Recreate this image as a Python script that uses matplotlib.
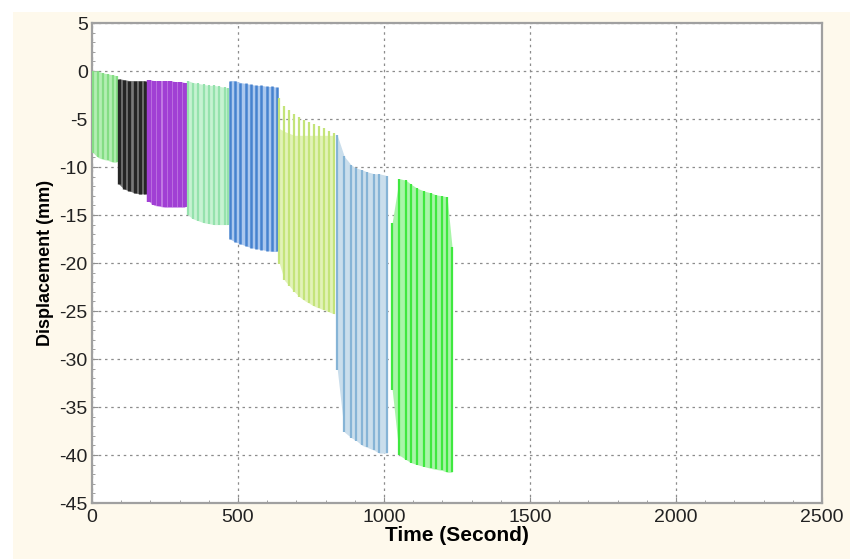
import numpy as np
import matplotlib.pyplot as plt
from matplotlib.patches import Rectangle
from matplotlib.ticker import MultipleLocator

plt.rcParams['font.family'] = ['Liberation Sans', 'DejaVu Sans']
plt.rcParams['axes.unicode_minus'] = False

# ---- data: one entry per loading stage ----
# cycle times (s), peak / trough of each cycle (mm)
s1_t = [3, 20, 37, 54, 71, 85]
s1_hi = [0.0, 0.0, -0.2, -0.3, -0.4, -0.5]
s1_lo = [-8.5, -9.0, -9.2, -9.3, -9.5, -9.5]

s2_t = [92, 110, 128, 146, 164, 182]
s2_hi = [-0.8, -0.9, -1.0, -1.0, -1.0, -1.0]
s2_lo = [-11.8, -12.3, -12.5, -12.7, -12.8, -12.8]

s3_t = [195, 213, 231, 249, 267, 285, 303, 318]
s3_hi = [-0.9, -1.0, -1.0, -1.0, -1.0, -1.1, -1.1, -1.2]
s3_lo = [-13.6, -14.0, -14.1, -14.2, -14.2, -14.2, -14.2, -14.2]

s4_t = [328, 346, 364, 382, 400, 418, 436, 454, 465]
s4_hi = [-1.0, -1.2, -1.3, -1.4, -1.5, -1.5, -1.6, -1.7, -1.8]
s4_lo = [-15.0, -15.4, -15.6, -15.8, -15.9, -16.0, -16.0, -16.0, -16.0]

s5_t = [472, 490, 508, 526, 544, 562, 580, 598, 616, 634]
s5_hi = [-1.0, -1.0, -1.2, -1.3, -1.4, -1.5, -1.5, -1.6, -1.6, -1.7]
s5_lo = [-17.5, -17.8, -18.0, -18.2, -18.4, -18.5, -18.6, -18.7, -18.8, -18.8]

s6_t = [642, 659, 676, 693, 710, 727, 744, 761, 778, 795, 812, 829]
s6_hi = [-2.8, -3.6, -4.1, -4.5, -4.8, -5.1, -5.3, -5.5, -5.7, -5.9, -6.2, -6.5]
s6_lo = [-20.1, -21.8, -22.4, -23.0, -23.5, -23.9, -24.2, -24.5, -24.7, -24.9, -25.1, -25.3]
# the pale band of stage 6 sits below the line tips
s6_band = [-6.0, -6.3, -6.5, -6.7, -6.7, -6.7, -6.7, -6.7, -6.7, -6.7, -6.7, -6.7]

s7_t = [840, 864, 888, 905, 925, 942, 966, 983, 1011]
s7_hi = [-6.7, -8.9, -9.8, -10.1, -10.3, -10.5, -10.7, -10.7, -10.9]
s7_lo = [-31.1, -37.6, -38.2, -38.5, -39.0, -39.2, -39.5, -39.8, -39.8]

s8_t = [1028, 1052, 1076, 1093, 1113, 1137, 1161, 1178, 1199, 1216, 1233]
s8_hi = [-15.8, -11.2, -11.4, -11.8, -12.2, -12.5, -12.7, -12.9, -13.0, -13.1, -18.3]
s8_lo = [-33.2, -40.0, -40.5, -40.8, -41.0, -41.2, -41.4, -41.5, -41.6, -41.8, -41.8]

x_ticks = [0, 500, 1000, 1500, 2000, 2500]
y_ticks = [5, 0, -5, -10, -15, -20, -25, -30, -35, -40, -45]

# (times, peaks, troughs, band top, fill colour, line colour, line width)
stages = [
    (s1_t, s1_hi, s1_lo, s1_hi, '#b4eeb4', '#84dd84', 1.6),
    (s2_t, s2_hi, s2_lo, s2_hi, '#7a7a7a', '#262626', 2.4),
    (s3_t, s3_hi, s3_lo, s3_hi, '#c98ae8', '#a13fd4', 3.2),
    (s4_t, s4_hi, s4_lo, s4_hi, '#c6f2d2', '#95e2ad', 1.6),
    (s5_t, s5_hi, s5_lo, s5_hi, '#aac7ee', '#4682cf', 1.8),
    (s6_t, s6_hi, s6_lo, s6_band, '#e2f2b8', '#c4e47a', 1.6),
    (s7_t, s7_hi, s7_lo, s7_hi, '#cadeec', '#86b4d6', 1.6),
    (s8_t, s8_hi, s8_lo, s8_hi, '#a8f5a8', '#3fe83f', 1.6),
]

fig = plt.figure(figsize=(8.5, 5.59), dpi=100, facecolor='white')
fig.patches.append(Rectangle((13 / 850, 0), 1, 1 - 12 / 559, transform=fig.transFigure,
                             facecolor='#fef9ec', edgecolor='none', zorder=-10))

ax = fig.add_axes([92 / 850, 1 - 503 / 559, 730 / 850, 480 / 559])
ax.set_facecolor('white')

for t, hi, lo, band, fcol, lcol, lw in stages:
    ax.fill_between(t, lo, band, color=fcol, lw=0, zorder=2)
    ax.vlines(t, lo, hi, color=lcol, lw=lw, zorder=3)

ax.set_xlim(0, 2500)
ax.set_ylim(-45, 5)
ax.set_xticks(x_ticks)
ax.set_yticks(y_ticks)
ax.yaxis.set_minor_locator(MultipleLocator(1))
ax.xaxis.set_minor_locator(MultipleLocator(100))

ax.grid(True, which='major', color='#8c8c8c', lw=0.9, linestyle=(0, (2, 3)), zorder=1)
ax.set_axisbelow(True)
for sp in ax.spines.values():
    sp.set_color('#a0a0a0')
    sp.set_linewidth(1.6)

ax.tick_params(axis='both', which='major', direction='in', length=4, color='#909090',
               labelsize=14, labelcolor='#222222')
ax.tick_params(axis='x', which='major', pad=4)
ax.tick_params(axis='y', which='major', pad=3)
ax.tick_params(axis='both', which='minor', direction='in', length=2, color='#909090')
ax.tick_params(top=False, right=False, which='both')

ax.set_xlabel('Time (Second)', fontsize=15, fontweight='bold', labelpad=0)
ax.set_ylabel('Displacement (mm)', fontsize=13, fontweight='bold', labelpad=4)

fig.savefig('out.png', dpi=100, facecolor=fig.get_facecolor())
